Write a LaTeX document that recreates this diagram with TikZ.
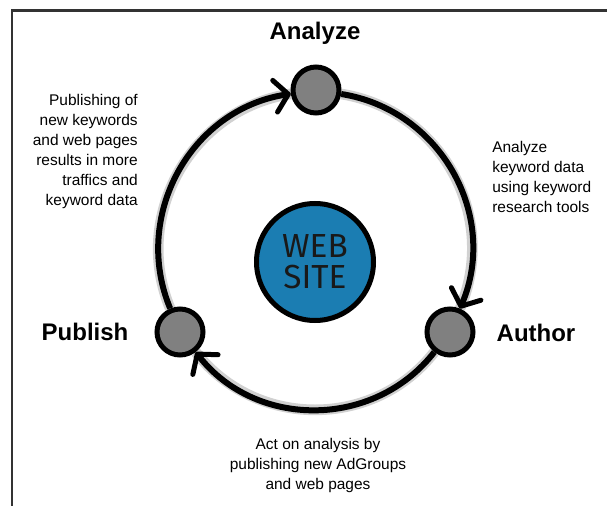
\documentclass[tikz,border=0pt]{standalone}
\usepackage{fontspec}
\setmainfont{Liberation Sans}
\newfontfamily\hubfont{Fira Sans}
\usetikzlibrary{arrows.meta,shadows}
\definecolor{webblue}{RGB}{27,125,178}
\definecolor{stagegray}{RGB}{128,128,128}
\tikzset{
  stage/.style={circle, draw=black, line width=3.75pt, fill=stagegray, minimum size=34.5pt, inner sep=0pt, drop shadow={opacity=0.25, shadow xshift=1pt, shadow yshift=-1pt}},
  hub/.style={circle, draw=black, line width=3.75pt, fill=webblue, minimum size=87.75pt, inner sep=0pt, align=center, text=black!90, font=\hubfont\fontsize{25}{23.5}\selectfont, drop shadow={opacity=0.25, shadow xshift=1.5pt, shadow yshift=-1.5pt}},
  stagelabel/.style={inner sep=0pt, font=\bfseries\fontsize{18}{20}\selectfont},
  note/.style={inner sep=0pt, font=\fontsize{11.6}{15}\selectfont},
  ringarc/.style={line width=4.5pt, -{Straight Barb[length=10pt, width=24pt, line width=3.75pt, round]}, preaction={draw=black, opacity=0.18, line width=8pt, -}, bend right=52, looseness=1.05},
}
\begin{document}
\begin{tikzpicture}[x=0.75pt,y=0.75pt,yscale=-1,xscale=1]
	\useasboundingbox (0,0) rectangle (607,506);
	
	% frame
	\draw [line width=1.7pt, black!80] (12.2,506) -- (12.2,10.5) -- (607,10.5);
	
	% hub and stages
	\node [hub] (web) at (315,262) {WEB\\SITE};
	\node [stage] (an) at (316,90) {};
	\node [stage] (au) at (450,332) {};
	\node [stage] (pu) at (180,332) {};
	
	% cycle
	\draw [ringarc] (an) to (au);
	\draw [ringarc] (au) to (pu);
	\draw [ringarc] (pu) to (an);
	
	% stage labels
	\node [stagelabel] (analyze) at (315,33) {Analyze};
	\node [stagelabel] (author) at (536,333) {Author};
	\node [stagelabel] (publish) at (85,332) {Publish};
	
	% notes
	\node [note, align=right, anchor=east] (notepu) at (138,152) {Publishing of\\new keywords\\and web pages\\results in more\\traffics and\\keyword data};
	\node [note, align=left, anchor=west] (noteau) at (492,177) {Analyze\\keyword data\\using keyword\\research tools};
	\node [note, align=center] (noteac) at (318,465) {Act on analysis by\\publishing new AdGroups\\and web pages};
\end{tikzpicture}
\end{document}
